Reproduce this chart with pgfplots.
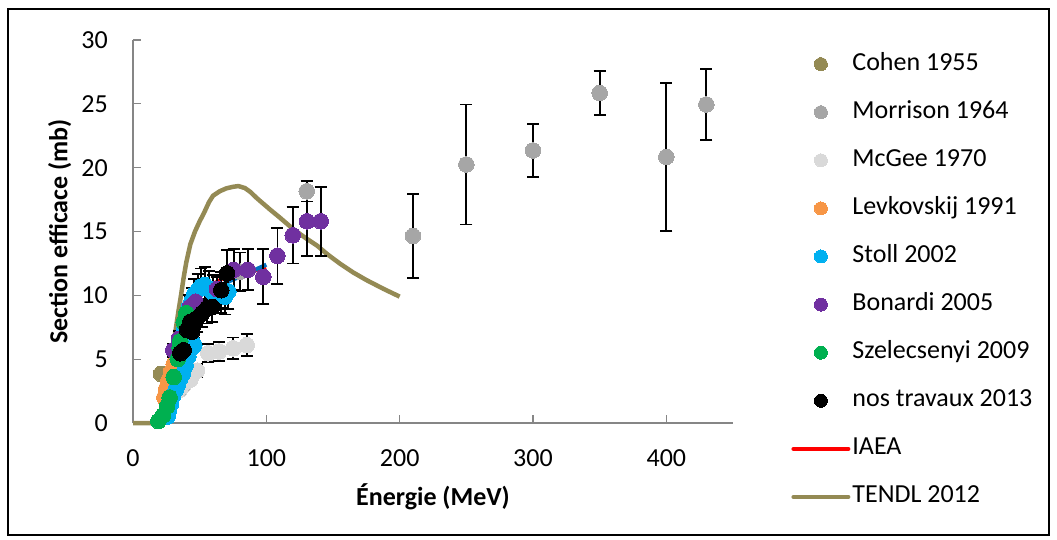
\documentclass[border=0pt]{standalone}
\usepackage{pgfplots}
\pgfplotsset{compat=1.18}
\usepackage{fontspec}
\setmainfont{Carlito}
\definecolor{cohen}{HTML}{948A54}
\definecolor{morrison}{HTML}{A6A6A6}
\definecolor{mcgee}{HTML}{D9D9D9}
\definecolor{levk}{HTML}{F79646}
\definecolor{stoll}{HTML}{00B0F0}
\definecolor{bonardi}{HTML}{7030A0}
\definecolor{szel}{HTML}{00B050}
\definecolor{tendl}{HTML}{948A54}
\definecolor{axisgray}{HTML}{868686}
\definecolor{iaeablue}{HTML}{0070C0}
\pgfplotsset{
  ebar/.style={/pgfplots/error bars/y dir=both,/pgfplots/error bars/y explicit,
    /pgfplots/error bars/error bar style={black,line width=1.8pt},
    /pgfplots/error bars/error mark options={black,rotate=90,mark size=6pt,line width=1.8pt}},
  pts/.style={only marks,mark=*,mark size=7.8pt,color=#1,mark options={fill=#1,draw=#1,line width=0pt}},
}
\begin{document}
\begin{tikzpicture}[x=1pt,y=1pt]
\useasboundingbox (0,0) rectangle (1057,539);
\draw[black,line width=1.3pt] (8,4) rectangle (1049,530);
\begin{axis}[
  at={(133pt,116pt)}, anchor=south west,
  scale only axis, width=600pt, height=383pt,
  xmin=0, xmax=450, ymin=0, ymax=30,
  xtick={0,100,...,400}, ytick={0,5,...,30},
  axis x line=bottom, axis y line=left,
  axis line style={-, draw=axisgray, line width=1.3pt},
  tick align=inside, major tick length=8pt,
  tick style={draw=axisgray, line width=1.3pt},
  /pgf/number format/assume math mode=true,
  ticklabel style={font=\fontsize{26}{31}\selectfont},
  yticklabel style={inner sep=0pt, anchor=east, xshift=-25pt},
  xticklabel style={inner sep=0pt, anchor=north, yshift=-26pt},
  xlabel={Énergie (MeV)}, ylabel={Section efficace (mb)},
  label style={font=\fontsize{26}{31}\selectfont\bfseries},
  xlabel style={at={(axis description cs:0.5,-0.193)}, anchor=center},
  ylabel style={at={(axis description cs:-0.122,0.5)}, anchor=center},
  clip=false,
  legend style={at={(axis description cs:1.097,0.969)}, anchor=north west, draw=none, fill=none,
    inner sep=0pt, font=\fontsize{26}{31}\selectfont, row sep=24.1pt, column sep=2pt,
    nodes={inner sep=0pt, text height=18pt, text depth=6pt, anchor=west}},
  legend cell align=left,
  legend image code/.code={\draw[mark repeat=2,mark phase=2,line cap=round,mark size=6.5pt] plot coordinates {(0pt,0pt)(27.5pt,0pt)(55pt,0pt)};},
]
% lines (drawn below the markers)
\addplot[forget plot, color=tendl, line width=4.5pt, line join=round] table {
x y
0 0
21 0
22 0.4
24 1.8
26 3.2
28 4.6
30 6.0
32 7.3
34 8.7
36 10.0
38 11.4
40 12.6
43 14.0
46.5 15.0
50 15.8
53 16.4
57 17.3
60 17.8
65 18.15
70 18.38
75 18.5
79 18.56
84 18.4
88 18.1
93 17.6
98 17.15
103 16.7
110 16.1
120 15.2
130 14.45
138 13.9
146 13.2
155 12.5
165 11.8
175 11.2
188 10.5
200 9.9
};
\addplot[forget plot, color=red, line width=3.5pt, line join=round] table {
x y
20 0
24 1.8
28 3.5
31 4.5
35 6.0
40 7.8
45 9.0
50 9.9
55 10.5
60 10.9
65 11.2
70 11.4
80 11.7
90 11.9
100 12.1
};
\addplot[forget plot, color=iaeablue, line width=4pt] table {
x y
68 10.9
100 12.4
};
% Cohen 1955
\addplot[pts=cohen] table {
x y
21 3.85
};
\addlegendentry{Cohen 1955}
% Morrison 1964
\addplot[pts=morrison, ebar] table[x=x, y=y, y error=e] {
x y e
80.5 11.85 1.5
130.3 18.15 0.8
210 14.65 3.3
250 20.25 4.7
300 21.35 2.1
350 25.85 1.7
400 20.85 5.8
430 24.95 2.8
};
\addlegendentry{Morrison 1964}
% McGee 1970
\addplot[pts=mcgee, ebar] table[x=x, y=y, y error=e] {
x y e
35 2.6 0.4
38 3.0 0.4
43 3.4 0.4
48 4.1 0.5
56.5 5.46 0.7
64.5 5.6 0.75
75.2 5.85 0.85
85.3 6.1 0.85
};
\addlegendentry{McGee 1970}
% Levkovskij 1991
\addplot[pts=levk] table {
x y
23.5 2.0
25 2.7
26.5 3.3
28.5 4.0
30.5 4.6
};
\addlegendentry{Levkovskij 1991}
% Stoll 2002
\addplot[pts=stoll, ebar] table[x=x, y=y, y error=e] {
x y e
26 0.5 0
27 1.0 0
28.5 1.5 0
30 2.1 0
32 2.6 0
33.5 3.0 0
35.5 3.5 0
37.5 3.9 0
39.5 4.5 0
41.5 5.2 0
43.5 5.8 0
46 6.1 0
44 6.5 0
41 6.9 0
38.5 7.4 0
39 8.0 0
40.5 8.6 0
42 9.1 0.9
44 9.6 1.0
46 10.1 1.2
48.5 10.4 1.3
51 10.7 1.4
54 10.8 1.4
57 10.5 1.4
60 10.2 1.4
63 10.0 1.4
66 10.0 1.4
69 9.9 1.4
71.5 10.3 1.4
};
\addlegendentry{Stoll 2002}
% Bonardi 2005
\addplot[pts=bonardi, ebar] table[x=x, y=y, y error=e] {
x y e
30.2 5.7 0.5
34.5 6.6 0.6
42.8 9.1 0.8
47 9.5 0.8
63 10.5 1.0
75.5 12.0 1.6
86 12.0 1.6
97.7 11.45 2.15
108.3 13.1 2.2
119.8 14.7 2.2
130.5 15.8 2.7
140.8 15.8 2.7
};
\addlegendentry{Bonardi 2005}
% Szelecsenyi 2009
\addplot[pts=szel] table {
x y
19 0.15
22.5 0.6
25.5 1.3
27.5 2.0
30.5 3.6
33.5 5.0
35 5.9
35.5 6.4
38 7.9
40 8.6
};
\addlegendentry{Szelecsenyi 2009}
% nos travaux 2013
\addplot[pts=black, ebar] table[x=x, y=y, y error=e] {
x y e
35.5 5.46 0.9
38 5.7 0.9
40.5 7.3 1.0
43 7.93 1.0
44.3 7.15 1.0
45.5 7.67 1.0
48 8.2 1.1
51.8 8.6 1.1
55.5 9.0 1.2
59.3 9.1 1.2
66.2 10.4 1.4
70.5 11.72 1.8
};
\addlegendentry{nos travaux 2013}
\addlegendimage{color=red, line width=4pt}
\addlegendentry{IAEA}
\addlegendimage{color=tendl, line width=4pt}
\addlegendentry{TENDL 2012}
\end{axis}
\end{tikzpicture}
\end{document}
